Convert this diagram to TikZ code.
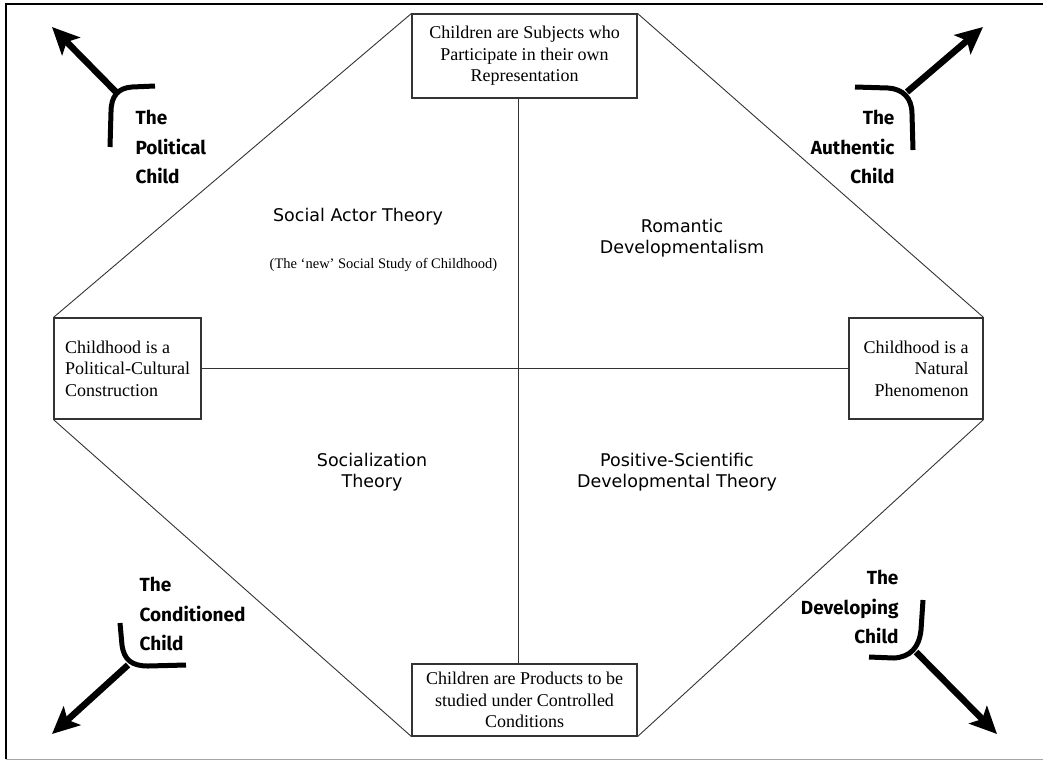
\documentclass[tikz,border=0pt]{standalone}
\usepackage{fontspec}
\setmainfont{Liberation Serif}
\newfontfamily\theoryfont{DejaVu Sans}
\newfontfamily\childfont{Fira Sans}
\usetikzlibrary{arrows.meta}

\begin{document}
\begin{tikzpicture}[x=1pt,y=-1pt,
   claim/.style={draw=black!80,line width=1.1pt,inner sep=0pt,font=\fontsize{18}{21.5}\selectfont},
   theory/.style={align=center,font=\theoryfont\fontsize{17.5}{21.5}\selectfont,text=black},
   child/.style={font=\childfont\bfseries\fontsize{19}{29.5}\selectfont},
   edge/.style={draw=black!80,line width=0.9pt},
   bracket/.style={line width=5pt},
   pointer/.style={line width=6.5pt,-{Stealth[length=27pt,width=25pt,inset=6pt]}}]

\useasboundingbox (0,0) rectangle (1043,761);
\draw[line width=2.5pt] (6,759) -- (6,4) -- (1043,4);
\draw[black!35,line width=1pt] (6,759) -- (1043,759);

% the four poles
\node[claim,minimum width=225pt,minimum height=84pt,align=center] (subjects) at (524.5,56)
   {Children are Subjects who\\Participate in their own\\Representation};
\node[claim,minimum width=225pt,minimum height=72pt,align=center] (products) at (524.5,700)
   {Children are Products to be\\studied under Controlled\\Conditions};
\node[claim,minimum width=147pt,minimum height=101pt,align=left] (political) at (127.5,368.5)
   {Childhood is a\\Political-Cultural\\Construction};
\node[claim,minimum width=134pt,minimum height=101pt,align=right] (natural) at (916,368.5)
   {Childhood is a\\Natural\\Phenomenon};

\draw[edge] (subjects.north west) -- (political.north west);
\draw[edge] (subjects.north east) -- (natural.north east);
\draw[edge] (political.south west) -- (products.south west);
\draw[edge] (natural.south east) -- (products.south east);
\draw[edge] ([xshift=-6.5pt]subjects.south) -- ([xshift=-6.5pt]products.north);
\draw[edge] (political.east) -- (natural.west);

% quadrants
\node[theory] (actor) at (358,217) {Social Actor Theory};
\node[font=\fontsize{14.5}{18}\selectfont] (newstudy) at (383.5,265) {(The `new' Social Study of Childhood)};
\node[theory] (romantic) at (682,238) {Romantic\\Developmentalism};
\node[theory] (socialization) at (372,472) {Socialization\\Theory};
\node[theory] (scientific) at (677,472) {Positive-Scientific\\Developmental Theory};

% the four children
\node[child,anchor=west,align=left] (politicalchild) at (132,147) {The\\Political\\Child};
\node[child,anchor=east,align=right] (authenticchild) at (898,147) {The\\Authentic\\Child};
\node[child,anchor=west,align=left] (conditionedchild) at (136,614) {The\\Conditioned\\Child};
\node[child,anchor=east,align=right] (developingchild) at (902,607) {The\\Developing\\Child};

\coordinate (tl) at (116,92);   \coordinate (tltip) at (52,27);
\coordinate (tr) at (907,92);   \coordinate (trtip) at (983,27);
\coordinate (bl) at (128,665);  \coordinate (bltip) at (52,734);
\coordinate (br) at (916,652);  \coordinate (brtip) at (997,734);

\draw[bracket] (155,86) -- (132,87) .. controls (118,88) and (111,96) .. (111,112) -- (110,147);
\draw[bracket] (855,87) -- (888,88) .. controls (903,89) and (912,98) .. (912,114) -- (913,150);
\draw[bracket] (120,623) -- (122,645) .. controls (124,660) and (132,666) .. (148,666) -- (186,665);
\draw[bracket] (923,600) -- (921,630) .. controls (919,648) and (910,657) .. (894,658) -- (869,657);

\draw[pointer] (tl) -- (tltip);
\draw[pointer] (tr) -- (trtip);
\draw[pointer] (bl) -- (bltip);
\draw[pointer] (br) -- (brtip);

\end{tikzpicture}
\end{document}
